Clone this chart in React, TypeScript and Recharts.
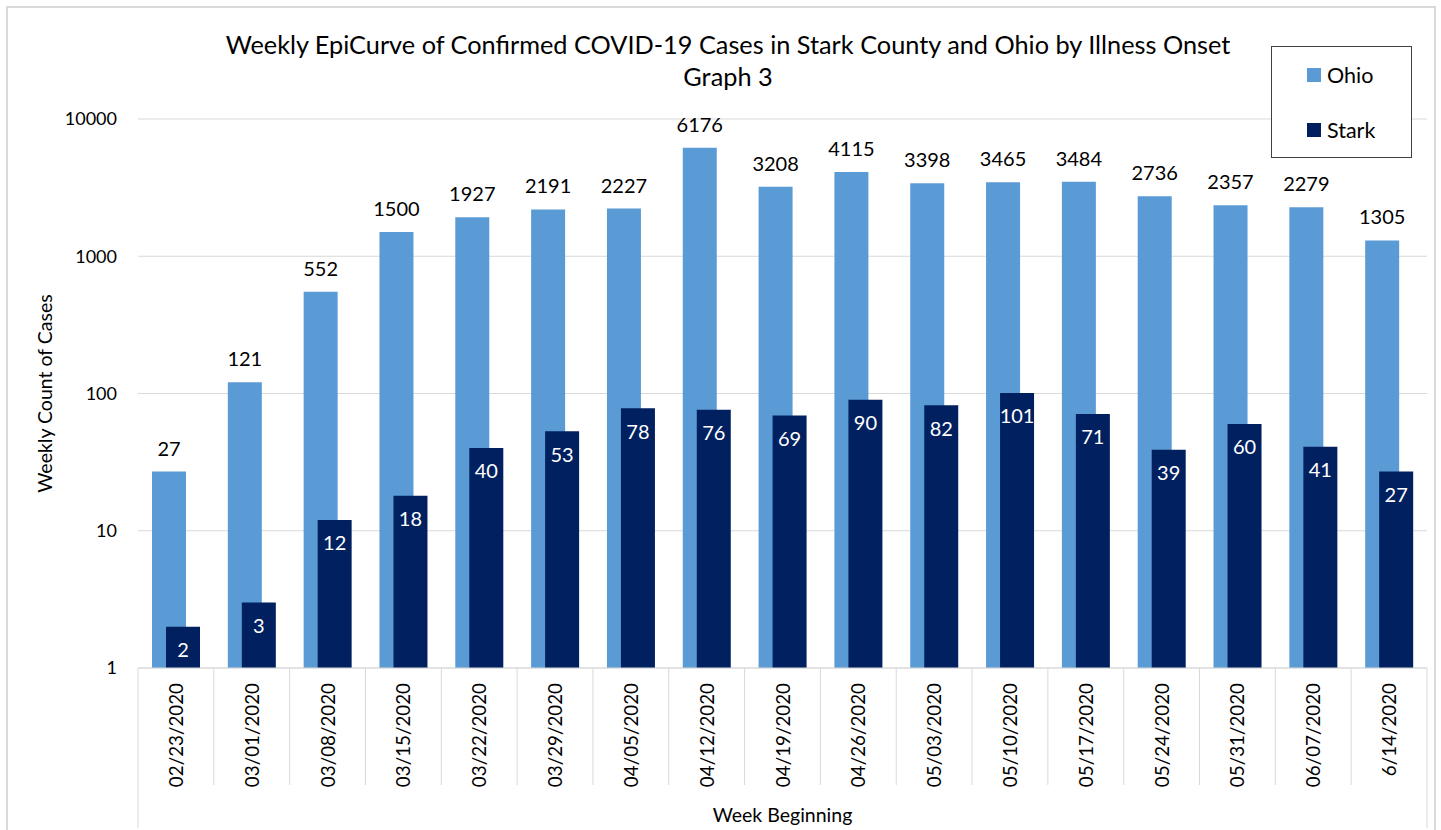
import { BarChart, Bar, XAxis, YAxis, CartesianGrid, Legend, LabelList } from 'recharts';

const weeks = [
  '02/23/2020', '03/01/2020', '03/08/2020', '03/15/2020', '03/22/2020', '03/29/2020',
  '04/05/2020', '04/12/2020', '04/19/2020', '04/26/2020', '05/03/2020', '05/10/2020',
  '05/17/2020', '05/24/2020', '05/31/2020', '06/07/2020', '6/14/2020',
];
const ohio = [27, 121, 552, 1500, 1927, 2191, 2227, 6176, 3208, 4115, 3398, 3465, 3484, 2736, 2357, 2279, 1305];
const stark = [2, 3, 12, 18, 40, 53, 78, 76, 69, 90, 82, 101, 71, 39, 60, 41, 27];
const yTicks = [1, 10, 100, 1000, 10000];

const OHIO_COLOR = '#5b9bd5';
const STARK_COLOR = '#002060';
const FONT = 'Lato, "Open Sans", sans-serif';

const W = 1441;
const H = 830;
const PLOT_LEFT = 138;
const PLOT_RIGHT = 1427;
const PLOT_BOTTOM = 668;
const BAND = (PLOT_RIGHT - PLOT_LEFT) / weeks.length;

const chartData = weeks.map((week, i) => ({ week, ohio: ohio[i], stark: stark[i] }));

function DateTick(props: any) {
  const { x, payload, index } = props;
  const last = index === weeks.length - 1;
  return (
    <g>
      <line x1={x - BAND / 2} x2={x - BAND / 2} y1={PLOT_BOTTOM} y2={index === 0 ? 828 : 785} stroke="#d9d9d9" />
      {last && <line x1={x + BAND / 2} x2={x + BAND / 2} y1={PLOT_BOTTOM} y2={828} stroke="#d9d9d9" />}
      <text
        transform={`translate(${x + 7},${PLOT_BOTTOM + 15}) rotate(-90)`}
        textAnchor="end"
        fontSize={18.8}
        fill="#000"
        fontFamily={FONT}
      >
        {payload.value}
      </text>
    </g>
  );
}

function LegendBox() {
  const items = [
    { name: 'Ohio', color: OHIO_COLOR },
    { name: 'Stark', color: STARK_COLOR },
  ];
  return (
    <div style={{ width: 141, height: 112, border: '1px solid #404040', background: '#fff', position: 'relative', fontFamily: FONT, boxSizing: 'border-box' }}>
      {items.map((it, i) => (
        <div key={it.name} style={{ position: 'absolute', left: 35, top: 15 + i * 55, display: 'flex', alignItems: 'center', height: 26 }}>
          <span style={{ width: 14, height: 14, background: it.color, display: 'inline-block', marginRight: 6 }} />
          <span style={{ fontSize: 21.5, color: '#000' }}>{it.name}</span>
        </div>
      ))}
    </div>
  );
}

export default function App() {
  return (
    <div style={{ position: 'absolute', left: 0, top: 0, width: W, height: H, background: '#fff', fontFamily: FONT }}>
      <div style={{ position: 'absolute', left: 6, top: 6, width: 1430, height: 826, border: '2px solid #d9d9d9', boxSizing: 'border-box' }} />
      <div style={{ position: 'absolute', left: 178, width: 1100, top: 28, textAlign: 'center', fontSize: 25.3, lineHeight: '32px', color: '#000' }}>
        <div>Weekly EpiCurve of Confirmed COVID-19 Cases in Stark County and Ohio by Illness Onset</div>
        <div>Graph 3</div>
      </div>
      <div style={{ position: 'absolute', left: 0, top: 0 }}>
        <BarChart
          width={W}
          height={H}
          data={chartData}
          margin={{ top: 119, right: W - PLOT_RIGHT, bottom: 2, left: 0 }}
          barSize={34}
          barGap={-20}
        >
          <CartesianGrid vertical={false} stroke="#d9d9d9" />
          <XAxis
            dataKey="week"
            interval={0}
            tickLine={false}
            axisLine={{ stroke: '#d9d9d9' }}
            height={160}
            tick={(p: any) => <DateTick {...p} />}
            label={{ value: 'Week Beginning', position: 'insideBottom', offset: 6, fontSize: 19.5, fill: '#000', fontFamily: FONT }}
          />
          <YAxis
            scale="log"
            domain={[1, 10000]}
            ticks={yTicks}
            allowDataOverflow
            width={PLOT_LEFT}
            tickLine={false}
            axisLine={false}
            tickMargin={15}
            tick={{ fontSize: 18, fill: '#000', fontFamily: FONT }}
            label={{ value: 'Weekly Count of Cases', angle: -90, position: 'insideLeft', offset: 45, fontSize: 19.5, fill: '#000', fontFamily: FONT, style: { textAnchor: 'middle' } }}
          />
          <Legend
            layout="vertical"
            verticalAlign="middle"
            align="center"
            content={() => <LegendBox />}
            wrapperStyle={{ position: 'absolute', left: 1271, top: 46, width: 141, height: 112 }}
          />
          <Bar dataKey="ohio" name="Ohio" fill={OHIO_COLOR} isAnimationActive={false}>
            <LabelList dataKey="ohio" position="top" offset={16} fontSize={20} fill="#000" fontFamily={FONT} />
          </Bar>
          <Bar dataKey="stark" name="Stark" fill={STARK_COLOR} isAnimationActive={false}>
            <LabelList dataKey="stark" position="insideTop" offset={16} fontSize={20} fill="#fff" fontFamily={FONT} />
          </Bar>
        </BarChart>
      </div>
    </div>
  );
}
